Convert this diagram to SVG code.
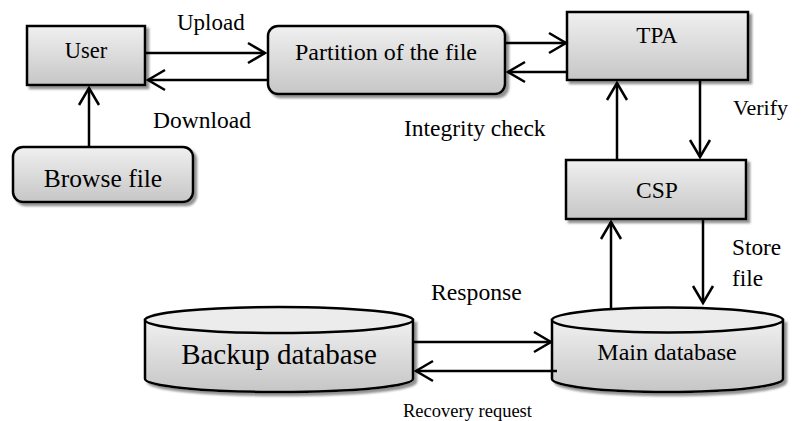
<svg xmlns="http://www.w3.org/2000/svg" width="804" height="421" viewBox="0 0 804 421">
<style>
.box{stroke:#000;stroke-width:2.5;fill:url(#g);filter:url(#sh)}
.top{stroke:#000;stroke-width:2.5;fill:#ececec}
.t{font-family:"Liberation Serif","Times New Roman",serif;fill:#000}
.c line{stroke:#000;stroke-width:2.5;marker-end:url(#a)}
</style>
<defs>
<linearGradient id="g" x1="0" y1="0" x2="0" y2="1">
<stop offset="0" stop-color="#f0f0f0"/>
<stop offset="1" stop-color="#c6c6c6"/>
</linearGradient>
<filter id="sh" x="-10%" y="-10%" width="130%" height="140%">
<feDropShadow dx="3" dy="3" stdDeviation="1.2" flood-color="#777" flood-opacity="0.8"/>
</filter>
<marker id="a" markerUnits="userSpaceOnUse" markerWidth="26" markerHeight="26" refX="18" refY="11" orient="auto" overflow="visible">
<path d="M1,1 L18,11 L1,21" fill="none" stroke="#000" stroke-width="2.5"/>
</marker>
</defs>

<g id="user">
<rect class="box" x="27" y="26" width="118" height="59"/>
<text class="t" x="86" y="58" font-size="22.5" text-anchor="middle">User</text>
</g>
<g id="browse">
<rect class="box" x="13" y="147" width="180" height="55" rx="10"/>
<text class="t" x="103" y="187" font-size="25.5" text-anchor="middle">Browse file</text>
</g>
<g id="partition">
<rect class="box" x="268" y="26" width="237" height="68" rx="10"/>
<text class="t" x="386" y="60" font-size="24" text-anchor="middle">Partition of the file</text>
</g>
<g id="tpa">
<rect class="box" x="567" y="12" width="181" height="68"/>
<text class="t" x="657" y="43" font-size="23" text-anchor="middle">TPA</text>
</g>
<g id="csp">
<rect class="box" x="566" y="160" width="180" height="59"/>
<text class="t" x="657" y="198" font-size="23.5" text-anchor="middle">CSP</text>
</g>
<g id="backup">
<path class="box" d="M145,320 L145,379 A134,13 0 0 0 413,379 L413,320 Z"/>
<ellipse class="top" cx="279" cy="320" rx="134" ry="13"/>
<text class="t" x="279" y="364" font-size="29" text-anchor="middle">Backup database</text>
</g>
<g id="main">
<path class="box" d="M552,320 L552,379 A115.5,13 0 0 0 783,379 L783,320 Z"/>
<ellipse class="top" cx="667.5" cy="320" rx="115.5" ry="12.5"/>
<text class="t" x="667" y="360" font-size="24" text-anchor="middle">Main database</text>
</g>

<g class="c" id="connectors">
<line x1="145" y1="53" x2="265" y2="53"/>
<line x1="268" y1="80" x2="148" y2="80"/>
<line x1="89" y1="147" x2="89" y2="88"/>
<line x1="505" y1="43" x2="566" y2="43"/>
<line x1="567" y1="72" x2="508" y2="72"/>
<line x1="617" y1="160" x2="617" y2="83"/>
<line x1="700" y1="80" x2="700" y2="157"/>
<line x1="611" y1="308" x2="611" y2="222"/>
<line x1="703" y1="219" x2="703" y2="303"/>
<line x1="413" y1="342" x2="551" y2="342"/>
<line x1="557" y1="371" x2="416" y2="371"/>
</g>

<g id="labels">
<text class="t" x="177" y="30" font-size="23">Upload</text>
<text class="t" x="153" y="128" font-size="23.5">Download</text>
<text class="t" x="404" y="136" font-size="23.5">Integrity check</text>
<text class="t" x="733" y="115" font-size="22">Verify</text>
<text class="t" x="732" y="255" font-size="23.3">Store</text>
<text class="t" x="732" y="286" font-size="23.3">file</text>
<text class="t" x="431" y="300" font-size="23.7">Response</text>
<text class="t" x="403" y="417" font-size="18.5">Recovery request</text>
</g>
</svg>
